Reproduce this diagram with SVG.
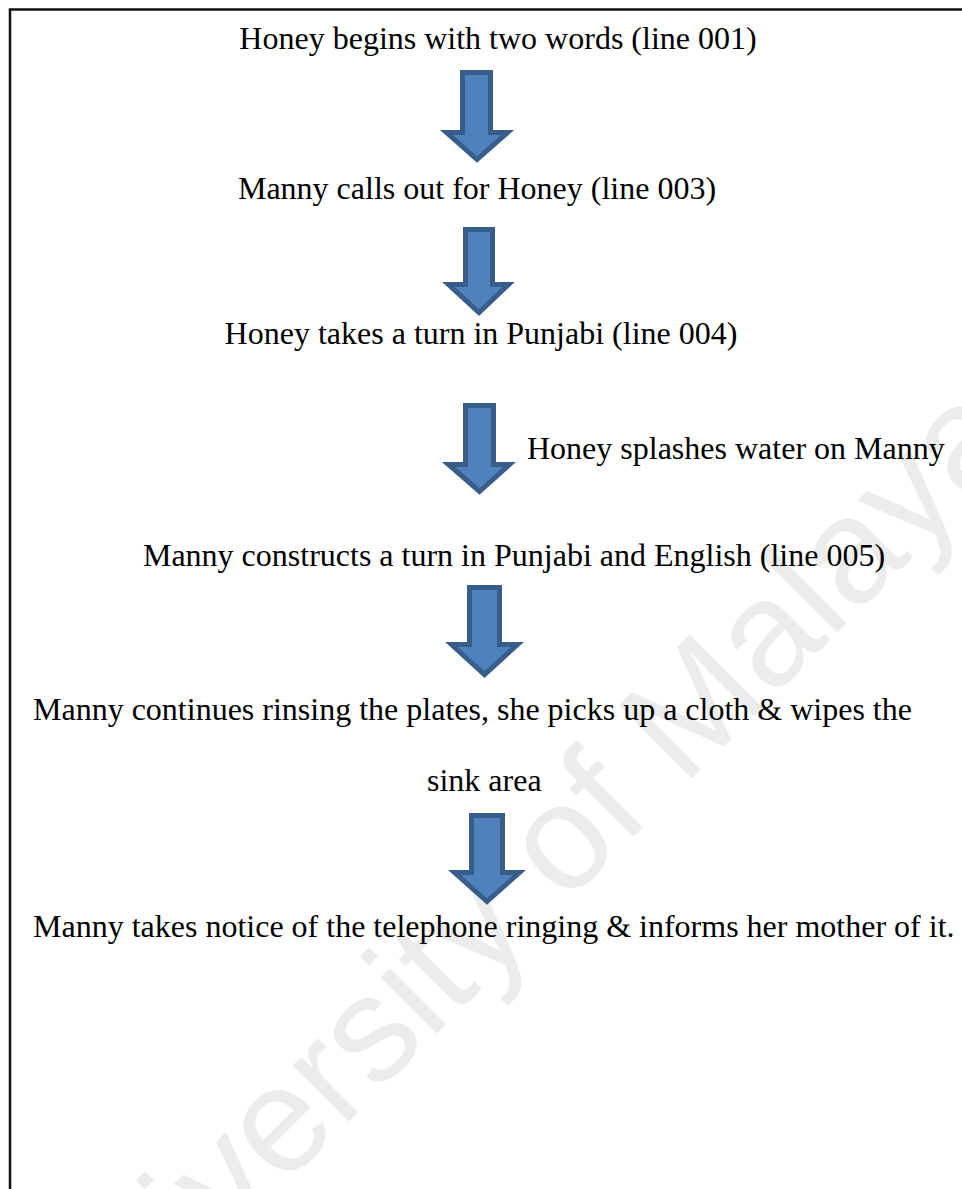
<svg xmlns="http://www.w3.org/2000/svg" width="962" height="1189" viewBox="0 0 962 1189">
  <style>
    .step { font-family: "Liberation Serif", "Times New Roman", serif; font-size: 32px; fill: #000; }
    .mid { text-anchor: middle; }
    .arrow { fill: #4f81bd; stroke: #385d8a; stroke-width: 5; stroke-linejoin: miter; stroke-miterlimit: 10; }
    .frame { fill: none; stroke: #111; stroke-width: 2.5; }
    .mark { font-family: "Liberation Sans", Arial, sans-serif; font-size: 150px; fill: #ececec; }
  </style>

  <rect width="962" height="1189" fill="#fff"/>

  <!-- faint background watermark -->
  <g id="watermark">
    <text class="mark" x="0" y="0" transform="translate(70,1400) rotate(-45)">University of Malaya</text>
  </g>

  <!-- page frame: top and left edges -->
  <path class="frame" d="M10,1189 V9.5 H962"/>

  <!-- flow arrows -->
  <g id="connectors">
    <polygon class="arrow" points="462.5,72.5 490.5,72.5 490.5,132.5 507.5,132.5 477,159.5 446.5,132.5 462.5,132.5"/>
    <polygon class="arrow" points="465.5,229.5 492.5,229.5 492.5,284.5 508.5,284.5 479,312.5 448.5,284.5 465.5,284.5"/>
    <polygon class="arrow" points="465.5,405.5 493.5,405.5 493.5,464.5 509.5,464.5 479.5,491.5 448.5,464.5 465.5,464.5"/>
    <polygon class="arrow" points="469.5,587.5 499.5,587.5 499.5,644.5 517.5,644.5 484.5,674.5 451.5,644.5 469.5,644.5"/>
    <polygon class="arrow" points="471.5,815.5 502.5,815.5 502.5,872.5 519.5,872.5 487,901.5 454.5,872.5 471.5,872.5"/>
  </g>

  <g id="step1">
    <text class="step mid" x="498" y="49">Honey begins with two words (line 001)</text>
  </g>
  <g id="step2">
    <text class="step mid" x="477" y="199">Manny calls out for Honey (line 003)</text>
  </g>
  <g id="step3">
    <text class="step mid" x="481" y="344">Honey takes a turn in Punjabi (line 004)</text>
  </g>
  <g id="action-label">
    <text class="step" x="527" y="459">Honey splashes water on Manny</text>
  </g>
  <g id="step4">
    <text class="step mid" x="514" y="566">Manny constructs a turn in Punjabi and English (line 005)</text>
  </g>
  <g id="step5">
    <text class="step" x="33" y="720">Manny continues rinsing the plates, she picks up a cloth &amp; wipes the</text>
    <text class="step" x="427" y="791">sink area</text>
  </g>
  <g id="step6">
    <text class="step" x="33" y="937">Manny takes notice of the telephone ringing &amp; informs her mother of it.</text>
  </g>
</svg>
